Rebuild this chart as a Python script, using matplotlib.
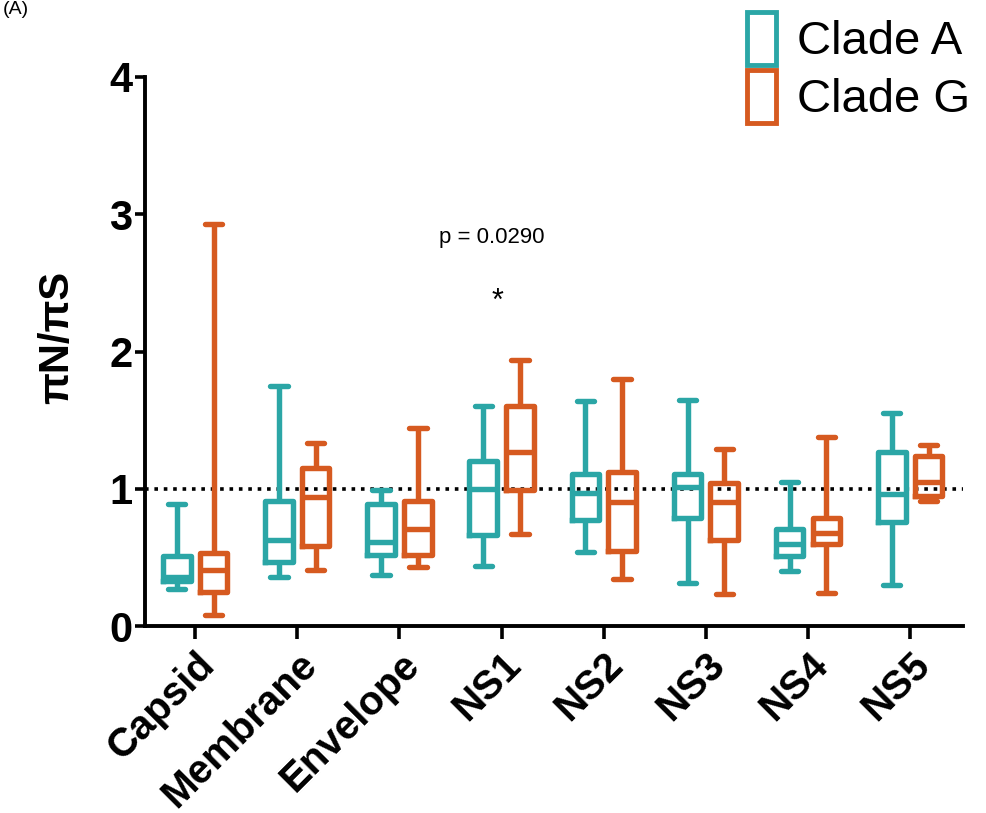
import matplotlib
matplotlib.use("Agg")
import matplotlib.pyplot as plt
from matplotlib.patches import Rectangle

categories = ["Capsid", "Membrane", "Envelope", "NS1", "NS2", "NS3", "NS4", "NS5"]
series_names = ["Clade A", "Clade G"]

# whisker low, Q1, median, Q3, whisker high
clade_a_low = [0.27, 0.36, 0.37, 0.44, 0.54, 0.31, 0.40, 0.30]
clade_a_q1 = [0.33, 0.47, 0.52, 0.66, 0.77, 0.79, 0.51, 0.76]
clade_a_med = [0.36, 0.63, 0.61, 1.00, 0.97, 1.01, 0.60, 0.96]
clade_a_q3 = [0.51, 0.91, 0.89, 1.20, 1.11, 1.11, 0.71, 1.27]
clade_a_high = [0.89, 1.75, 0.99, 1.60, 1.64, 1.65, 1.05, 1.55]

clade_g_low = [0.08, 0.41, 0.43, 0.67, 0.34, 0.23, 0.24, 0.91]
clade_g_q1 = [0.25, 0.58, 0.52, 0.99, 0.55, 0.63, 0.60, 0.95]
clade_g_med = [0.41, 0.94, 0.71, 1.27, 0.90, 0.90, 0.68, 1.05]
clade_g_q3 = [0.53, 1.15, 0.91, 1.60, 1.12, 1.04, 0.79, 1.24]
clade_g_high = [2.93, 1.33, 1.44, 1.94, 1.80, 1.29, 1.38, 1.32]

y_ticks = [0, 1, 2, 3, 4]
reference_line = 1.0
p_text = "p = 0.0290"
p_category = "NS1"

teal = "#2ba6a6"
orange = "#d65a20"
FONT = "Liberation Sans"

fig = plt.figure(figsize=(9.87, 8.13), dpi=100)
ax = fig.add_axes([0.147, 0.23, 0.829, 0.6753])

def stats(low, q1, med, q3, high):
    return [dict(whislo=a, q1=b, med=c, q3=d, whishi=e, fliers=[])
            for a, b, c, d, e in zip(low, q1, med, q3, high)]

offset = 0.18
bw = 0.27
lw = 3.9
for st, col, sgn in [
    (stats(clade_a_low, clade_a_q1, clade_a_med, clade_a_q3, clade_a_high), teal, -1),
    (stats(clade_g_low, clade_g_q1, clade_g_med, clade_g_q3, clade_g_high), orange, 1),
]:
    pos = [i + sgn * offset for i in range(len(categories))]
    ax.bxp(st, positions=pos, widths=bw, capwidths=0.17, showfliers=False,
           boxprops=dict(color=col, linewidth=lw),
           medianprops=dict(color=col, linewidth=lw),
           whiskerprops=dict(color=col, linewidth=lw, solid_capstyle="butt"),
           capprops=dict(color=col, linewidth=lw, solid_capstyle="round"),
           manage_ticks=False)

ax.axhline(reference_line, color="black", linestyle=(0, (1, 1.6)), linewidth=2.6, zorder=0)

ax.set_xlim(-0.49, 7.52)
ax.set_ylim(0, 4)
ax.set_yticks(y_ticks)
ax.set_yticklabels([str(t) for t in y_ticks], fontsize=30, fontweight="bold", family=FONT)
ax.set_xticks(range(len(categories)))
ax.set_xticklabels(categories, fontsize=29, fontweight="bold", family=FONT,
                   rotation=45, ha="right", rotation_mode="anchor")
ax.tick_params(axis="y", length=7, width=2.6, pad=2)
ax.tick_params(axis="x", length=9, width=2.6, pad=5)
for s in ["top", "right"]:
    ax.spines[s].set_visible(False)
for s in ["left", "bottom"]:
    ax.spines[s].set_linewidth(2.8)

ax.set_ylabel("πN/πS", fontsize=30, fontweight="bold", family=FONT)
ax.yaxis.set_label_coords(-0.083, 0.525)

xi = categories.index(p_category)
ax.text(xi - 0.1, 2.83, p_text, fontsize=16, ha="center", va="center", family=FONT)
ax.text(xi - 0.04, 2.36, "*", fontsize=22, ha="center", va="center", family=FONT)

handles = [Rectangle((0, 0), 1, 1, facecolor="white", edgecolor=c, linewidth=3.5)
           for c in (teal, orange)]
leg = fig.legend(handles, series_names, loc="upper right", bbox_to_anchor=(1.012, 1.02),
                 frameon=False, prop=dict(family=FONT, size=34),
                 handlelength=0.62, handleheight=1.35, handletextpad=0.45,
                 labelspacing=0.1, borderaxespad=0.2)

fig.text(0.003, 0.999, "(A)", fontsize=14, ha="left", va="top", family=FONT)

fig.savefig("out.png", dpi=100)
